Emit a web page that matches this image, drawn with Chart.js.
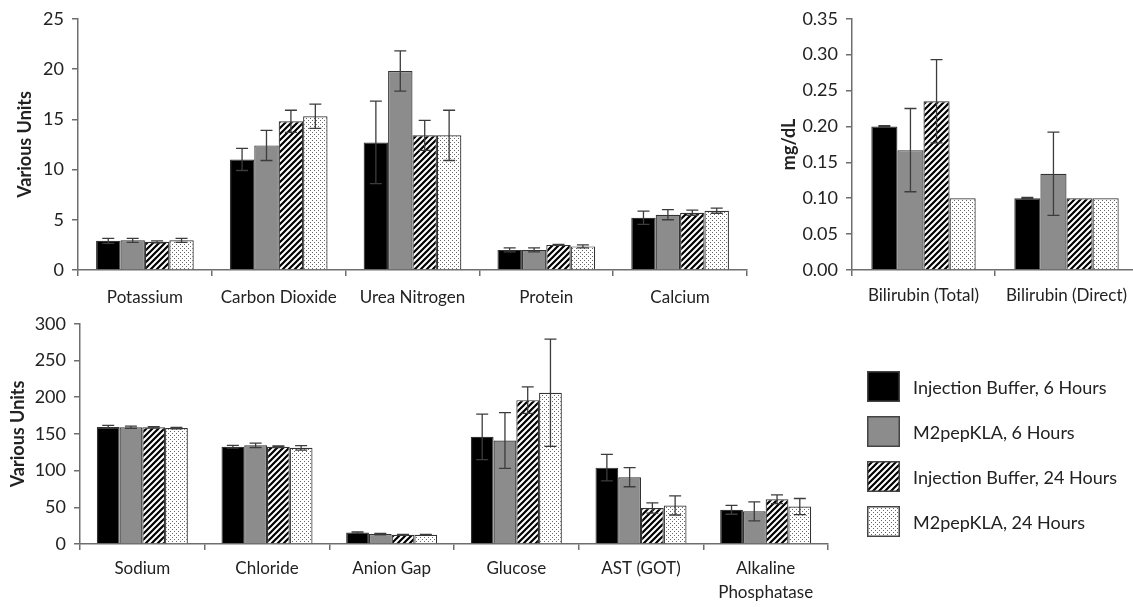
<!DOCTYPE html>
<html>
<head>
<meta charset="utf-8">
<script src="https://cdn.jsdelivr.net/npm/chart.js@4.4.1/dist/chart.umd.min.js"></script>
<style>
  body { margin: 0; background: #fff; overflow: hidden; }
  #wrap { position: relative; width: 1133px; height: 607px; }
  #wrap canvas.chart { position: absolute; }
  #legend { position: absolute; left: 867px; top: 371px; font-family: Lato, sans-serif; font-size: 18px; color: #222; }
  .item { display: flex; align-items: center; height: 31px; margin-bottom: 14px; }
  .item canvas { margin-right: 13px; }
</style>
</head>
<body>
<div id="wrap">
  <canvas id="top" class="chart" width="765" height="310" style="left:0;top:0"></canvas>
  <canvas id="bili" class="chart" width="368" height="310" style="left:770px;top:0"></canvas>
  <canvas id="bottom" class="chart" width="840" height="302" style="left:0;top:305px"></canvas>
  <div id="legend"></div>
</div>
<script>
const seriesNames = ['Injection Buffer, 6 Hours', 'M2pepKLA, 6 Hours', 'Injection Buffer, 24 Hours', 'M2pepKLA, 24 Hours'];

// top left panel
const topLabels = ['Potassium', 'Carbon Dioxide', 'Urea Nitrogen', 'Protein', 'Calcium'];
const topIB6 = [2.9, 11.0, 12.7, 2.0, 5.2];
const topIB6Err = [0.25, 1.1, 4.1, 0.2, 0.65];
const topM6 = [2.95, 12.4, 19.8, 2.0, 5.5];
const topM6Err = [0.2, 1.5, 2.0, 0.2, 0.5];
const topIB24 = [2.8, 14.8, 13.4, 2.5, 5.7];
const topIB24Err = [0.1, 1.1, 1.5, 0.05, 0.25];
const topM24 = [2.95, 15.3, 13.4, 2.35, 5.9];
const topM24Err = [0.2, 1.2, 2.5, 0.15, 0.25];

// top right panel (mg/dL)
const biliLabels = ['Bilirubin (Total)', 'Bilirubin (Direct)'];
const biliIB6 = [0.20, 0.10];
const biliIB6Err = [0.001, 0.001];
const biliM6 = [0.167, 0.134];
const biliM6Err = [0.058, 0.058];
const biliIB24 = [0.235, 0.10];
const biliIB24Err = [0.058, 0];
const biliM24 = [0.10, 0.10];
const biliM24Err = [0, 0];

// bottom panel
const botLabels = ['Sodium', 'Chloride', 'Anion Gap', 'Glucose', 'AST (GOT)', ['Alkaline', 'Phosphatase']];
const botIB6 = [159.5, 132.5, 15.5, 146, 104, 46.5];
const botIB6Err = [2, 2, 1, 31, 18, 6];
const botM6 = [159, 134.5, 13.5, 141, 91, 44.5];
const botM6Err = [1.5, 3, 1, 38, 13, 13];
const botIB24 = [159, 132.5, 12.5, 196, 49, 61];
const botIB24Err = [1, 1, 0.5, 18, 7, 6];
const botM24 = [158, 131, 12.5, 206, 52.5, 51];
const botM24Err = [1, 3, 0.5, 73, 13, 11];

const axisColor = '#6e6e6e';
const textColor = '#222';
const fontFamily = 'Lato, sans-serif';

// fill patterns
function hatchPattern() {
    const c = document.createElement('canvas');
    c.width = 6; c.height = 6;
    const g = c.getContext('2d');
    g.fillStyle = '#fff';
    g.fillRect(0, 0, 6, 6);
    g.strokeStyle = '#000';
    g.lineWidth = 2.2;
    g.beginPath();
    g.moveTo(0, 6); g.lineTo(6, 0);
    g.moveTo(-1, 1); g.lineTo(1, -1);
    g.moveTo(5, 7); g.lineTo(7, 5);
    g.stroke();
    return g.createPattern(c, 'repeat');
}
function dotPattern() {
    const c = document.createElement('canvas');
    c.width = 4; c.height = 4;
    const g = c.getContext('2d');
    g.fillStyle = '#fff';
    g.fillRect(0, 0, 4, 4);
    g.fillStyle = '#666';
    g.fillRect(0, 0, 1, 1);
    g.fillRect(2, 2, 1, 1);
    return g.createPattern(c, 'repeat');
}
const fills = ['#000', '#8c8c8c', hatchPattern(), dotPattern()];

const errorBars = {
    id: 'errorBars',
    afterDatasetsDraw(chart) {
        const ctx = chart.ctx, y = chart.scales.y;
        ctx.save();
        ctx.strokeStyle = '#3c3c3c';
        ctx.lineWidth = 1.3;
        chart.data.datasets.forEach((ds, i) => {
            chart.getDatasetMeta(i).data.forEach((bar, j) => {
                const e = ds.errors[j];
                if (!e) return;
                const v = ds.data[j];
                const t = y.getPixelForValue(v + e), b = y.getPixelForValue(v - e);
                ctx.beginPath();
                ctx.moveTo(bar.x, t); ctx.lineTo(bar.x, b);
                ctx.moveTo(bar.x - 6, t); ctx.lineTo(bar.x + 6, t);
                ctx.moveTo(bar.x - 6, b); ctx.lineTo(bar.x + 6, b);
                ctx.stroke();
            });
        });
        ctx.restore();
    }
};

function makeChart(id, labels, values, errors, cfg) {
    const datasets = values.map((vals, i) => ({
        label: seriesNames[i],
        data: vals,
        errors: errors[i],
        backgroundColor: fills[i],
        borderColor: '#333',
        borderWidth: 1.2,
        categoryPercentage: 0.73,
        barPercentage: 1
    }));
    return new Chart(document.getElementById(id), {
        type: 'bar',
        data: { labels: labels, datasets: datasets },
        plugins: [errorBars],
        options: {
            responsive: false,
            animation: false,
            layout: { padding: cfg.padding },
            plugins: { legend: { display: false }, tooltip: { enabled: false } },
            scales: {
                x: {
                    grid: { drawOnChartArea: false, offset: true, tickLength: 6, color: axisColor, lineWidth: 1.5 },
                    border: { color: axisColor, width: 1.5 },
                    ticks: { color: textColor, font: { family: fontFamily, size: 17, lineHeight: 1.45 }, padding: cfg.xPad, maxRotation: 0, autoSkip: false },
                    afterFit(s) { s.height = cfg.xHeight; }
                },
                y: {
                    min: 0, max: cfg.max,
                    grid: { drawOnChartArea: false, tickLength: 6, color: axisColor, lineWidth: 1.5 },
                    border: { color: axisColor, width: 1.5 },
                    ticks: { stepSize: cfg.step, color: textColor, font: { family: fontFamily, size: 18 }, padding: 8,
                             callback: v => v.toFixed(cfg.decimals) },
                    title: { display: true, text: cfg.title, color: textColor,
                             font: { family: fontFamily, size: 18, weight: 'bold' }, padding: { top: cfg.titlePad, bottom: 0 } },
                    afterFit(s) { s.width = cfg.yWidth; }
                }
            }
        }
    });
}

makeChart('top', topLabels, [topIB6, topM6, topIB24, topM24], [topIB6Err, topM6Err, topIB24Err, topM24Err],
    { padding: { top: 12, right: 18, left: 0, bottom: 0 }, max: 25, step: 5, decimals: 0, title: 'Various Units',
      titlePad: 14, yWidth: 78, xHeight: 40, xPad: 9 });

makeChart('bili', biliLabels, [biliIB6, biliM6, biliIB24, biliM24], [biliIB6Err, biliM6Err, biliIB24Err, biliM24Err],
    { padding: { top: 17, right: 0, left: 0, bottom: 0 }, max: 0.35, step: 0.05, decimals: 2, title: 'mg/dL',
      titlePad: 8, yWidth: 82, xHeight: 40, xPad: 7 });

makeChart('bottom', botLabels, [botIB6, botM6, botIB24, botM24], [botIB6Err, botM6Err, botIB24Err, botM24Err],
    { padding: { top: 12, right: 12, left: 0, bottom: 0 }, max: 300, step: 50, decimals: 0, title: 'Various Units',
      titlePad: 7, yWidth: 80, xHeight: 63, xPad: 6 });

// legend
const legend = document.getElementById('legend');
seriesNames.forEach((name, i) => {
    const item = document.createElement('div');
    item.className = 'item';
    const sw = document.createElement('canvas');
    sw.width = 33; sw.height = 31;
    const g = sw.getContext('2d');
    g.fillStyle = fills[i];
    g.fillRect(0, 0, 33, 31);
    g.strokeStyle = '#444';
    g.lineWidth = 1.5;
    g.strokeRect(0.75, 0.75, 31.5, 29.5);
    const label = document.createElement('span');
    label.textContent = name;
    item.appendChild(sw);
    item.appendChild(label);
    legend.appendChild(item);
});
</script>
</body>
</html>
